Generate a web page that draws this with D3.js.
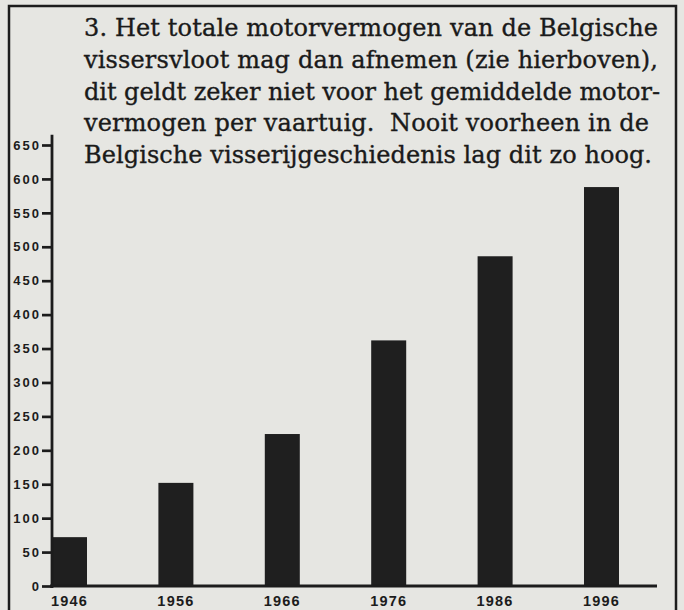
<!DOCTYPE html>
<html>
<head>
<meta charset="utf-8">
<script src="https://cdn.jsdelivr.net/npm/d3@7"></script>
<style>
  body { margin: 0; background: #e6e6e2; }
  svg { display: block; }
</style>
</head>
<body>
<div id="chart"></div>
<script>
var width = 684,
	height = 610;

// gemiddeld motorvermogen per vaartuig (pk)
var years = ["1946", "1956", "1966", "1976", "1986", "1996"];
var power = [72, 152, 224, 362, 486, 588];
var yTicks = [0, 50, 100, 150, 200, 250, 300, 350, 400, 450, 500, 550, 600, 650];

var titleLines = [
	"3. Het totale motorvermogen van de Belgische",
	"vissersvloot mag dan afnemen (zie hierboven),",
	"dit geldt zeker niet voor het gemiddelde motor-",
	"vermogen per vaartuig.  Nooit voorheen in de",
	"Belgische visserijgeschiedenis lag dit zo hoog."
];
var titleWidths = [574, 574, 576, 565, 568];

var svg = d3.select("#chart")
	.append("svg")
		.attr("width", width)
		.attr("height", height)
		.style("background-color", "#e6e6e2");

// frame
svg.append("path")
	.attr("d", "M9,616 L9,6 L676,6 L676,616")
	.attr("fill", "none")
	.attr("stroke", "#1c1c1c")
	.attr("stroke-width", 2.5);

var y = d3.scaleLinear()
	.domain([0, 650])
	.range([586, 145]);

var x = d3.scaleBand()
	.domain(years)
	.range([52, 619])
	.paddingInner(0.671)
	.paddingOuter(0)
	.align(0);

// bars
svg.selectAll(".bar")
	.data(years)
	.enter()
	.append("rect")
		.classed("bar", true)
		.attr("x", function(d){ return x(d); })
		.attr("width", x.bandwidth())
		.attr("y", function(d, i){ return y(power[i]); })
		.attr("height", function(d, i){ return y(0) - y(power[i]); })
		.attr("fill", "#1f1f1f");

// y axis
var yAxis = svg.append("g")
	.attr("transform", "translate(52,0)")
	.call(d3.axisLeft(y).tickValues(yTicks).tickSize(10).tickSizeOuter(0).tickPadding(1));

yAxis.select(".domain").remove();
yAxis.selectAll(".tick line")
	.attr("stroke", "#1c1c1c")
	.attr("stroke-width", 2.7);
yAxis.selectAll(".tick text")
	.attr("fill", "#1c1c1c")
	.style("font-family", "'Liberation Sans', Arial, sans-serif")
	.style("font-weight", "bold")
	.style("font-size", "13px")
	.style("letter-spacing", "2px");

svg.append("line")
	.attr("x1", 52).attr("x2", 52)
	.attr("y1", y(665)).attr("y2", y(0) + 2)
	.attr("stroke", "#1c1c1c")
	.attr("stroke-width", 2.8);

// baseline
svg.append("line")
	.attr("x1", 50).attr("x2", 657)
	.attr("y1", y(0)).attr("y2", y(0))
	.attr("stroke", "#1c1c1c")
	.attr("stroke-width", 2.8);

// x labels
var xAxis = svg.append("g")
	.attr("transform", "translate(0," + y(0) + ")")
	.call(d3.axisBottom(x).tickSize(0).tickPadding(10));

xAxis.select(".domain").remove();
xAxis.selectAll(".tick text")
	.attr("fill", "#1c1c1c")
	.style("font-family", "'Liberation Sans', Arial, sans-serif")
	.style("font-weight", "bold")
	.style("font-size", "14.5px")
	.style("letter-spacing", "1.2px");

// caption
svg.selectAll(".title")
	.data(titleLines)
	.enter()
	.append("text")
		.classed("title", true)
		.attr("x", 84)
		.attr("y", function(d, i){ return 36 + i * 31.8; })
		.attr("textLength", function(d, i){ return titleWidths[i]; })
		.attr("lengthAdjust", "spacing")
		.attr("fill", "#1a1a1a")
		.attr("stroke", "#1a1a1a")
		.attr("stroke-width", 0.35)
		.style("font-family", "'DejaVu Serif', serif")
		.style("font-size", "24px")
		.style("white-space", "pre")
		.text(function(d){ return d; });
</script>
</body>
</html>
